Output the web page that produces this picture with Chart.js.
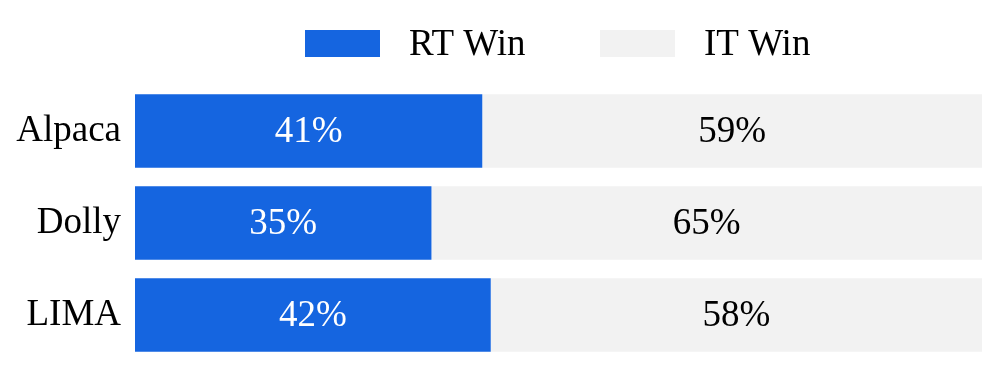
<!DOCTYPE html>
<html>
<head>
<meta charset="utf-8">
<script src="https://cdn.jsdelivr.net/npm/chart.js@4.4.0/dist/chart.umd.min.js"></script>
<style>
html,body{margin:0;padding:0;background:#fff;}
#wrap{width:997px;height:380px;position:relative;}
</style>
</head>
<body>
<div id="wrap"><canvas id="c" width="997" height="380"></canvas></div>
<script>
const categories = ["Alpaca", "Dolly", "LIMA"];
const seriesNames = ["RT Win", "IT Win"];
const rtWin = [41, 35, 42];
const itWin = [59, 65, 58];
const colors = ["#1565e0", "#f2f2f2"];
const labelColors = ["#ffffff", "#000000"];
const FONT = "'Liberation Serif', 'Times New Roman', serif";

const valueLabels = {
  id: "valueLabels",
  afterDatasetsDraw(chart) {
    const ctx = chart.ctx;
    ctx.save();
    ctx.font = "37px " + FONT;
    ctx.textAlign = "center";
    ctx.textBaseline = "middle";
    chart.data.datasets.forEach((ds, di) => {
      const meta = chart.getDatasetMeta(di);
      meta.data.forEach((bar, i) => {
        const cx = (bar.x + bar.base) / 2;
        ctx.fillStyle = labelColors[di];
        ctx.fillText(ds.data[i] + "%", cx, bar.y + 1);
      });
    });
    ctx.restore();
  }
};

const customLegend = {
  id: "customLegend",
  afterDraw(chart) {
    const ctx = chart.ctx;
    ctx.save();
    ctx.font = "37px " + FONT;
    ctx.textBaseline = "middle";
    ctx.textAlign = "left";
    const xs = [305, 600];
    chart.data.datasets.forEach((ds, di) => {
      const x = xs[di];
      ctx.fillStyle = ds.backgroundColor;
      ctx.fillRect(x, 30, 75, 27);
      ctx.fillStyle = "#000";
      ctx.fillText(ds.label, x + 104, 45);
    });
    ctx.restore();
  }
};

new Chart(document.getElementById("c"), {
  type: "bar",
  data: {
    labels: categories,
    datasets: [
      { label: seriesNames[0], data: rtWin, backgroundColor: colors[0] },
      { label: seriesNames[1], data: itWin, backgroundColor: colors[1] }
    ]
  },
  options: {
    indexAxis: "y",
    responsive: false,
    animation: false,
    layout: { padding: { left: 0, right: 15, top: 85, bottom: 19 } },
    datasets: { bar: { categoryPercentage: 1.0, barPercentage: 0.8, borderWidth: 0 } },
    plugins: { legend: { display: false }, tooltip: { enabled: false } },
    scales: {
      x: { stacked: true, display: false, min: 0, max: 100 },
      y: {
        stacked: true,
        grid: { display: false, drawTicks: false },
        border: { display: false },
        ticks: { color: "#000", font: { family: FONT, size: 37 }, padding: 14 },
        afterFit(scale) { scale.width = 135; scale.paddingTop = 0; scale.paddingBottom = 0; }
      }
    }
  },
  plugins: [valueLabels, customLegend]
});
</script>
</body>
</html>
